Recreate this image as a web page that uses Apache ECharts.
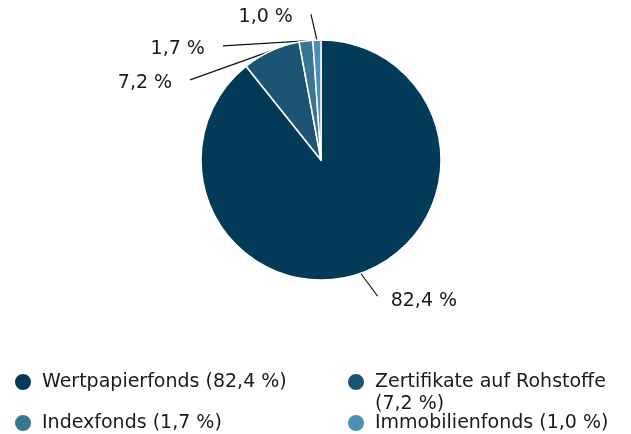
<!DOCTYPE html>
<html>
<head>
<meta charset="utf-8">
<script src="https://cdn.jsdelivr.net/npm/echarts@6/dist/echarts.min.js"></script>
<style>
	html, body { margin: 0; padding: 0; background: #fff; }
	#chart { width: 631px; height: 434px; }
</style>
</head>
<body>
<div id="chart"></div>
<script>
var categories = ['Wertpapierfonds', 'Zertifikate auf Rohstoffe', 'Indexfonds', 'Immobilienfonds'];
var values = [82.4, 7.2, 1.7, 1.0];
var colors = ['#023a57', '#1b5573', '#387693', '#4a90b2'];

function fmt(v) {
	return v.toFixed(1).replace('.', ',') + ' %';
}

var myChart = echarts.init(document.getElementById('chart'));
var font = 'DejaVu Sans';
var fontSize = 19;
var pieData = categories.map(function(name, i) {
	return { name: name, value: values[i], itemStyle: { color: colors[i] } };
});

// label line end offsets from slice edge
var lineOffsets = [[17, 23], [-81, 29], [-83, 5], [-6, -26]];

function legendAt(name, left, top, twoLines) {
	var lg = {
		data: [name],
		left: left,
		top: top,
		padding: 0,
		itemWidth: 18,
		itemHeight: 18,
		icon: 'circle',
		selectedMode: false,
		textStyle: {
			color: '#1a1a1a',
			fontSize: fontSize,
			fontFamily: font,
			lineHeight: 22,
			padding: [0, 0, 0, 5]
		},
		formatter: function(n) {
			var i = categories.indexOf(n);
			return n + ' (' + fmt(values[i]) + ')';
		}
	};
	if (twoLines) {
		// blank first line keeps the icon level with the first text line
		lg.formatter = function(n) {
			var i = categories.indexOf(n);
			return ' \n' + n + '\n(' + fmt(values[i]) + ')';
		};
	}
	return lg;
}

var option = {
	animation: false,
	legend: [
		legendAt(categories[0], 13, 371),
		legendAt(categories[1], 346, 349, true),
		legendAt(categories[2], 13, 412),
		legendAt(categories[3], 346, 412)
	],
	series: [{
		type: 'pie',
		center: [321, 160],
		radius: [0, 120],
		startAngle: 90,
		clockwise: true,
		data: pieData,
		itemStyle: {
			borderColor: '#fff',
			borderWidth: 1.5
		},
		label: {
			show: true,
			position: 'outside',
			color: '#1a1a1a',
			fontSize: fontSize,
			fontFamily: font,
			formatter: function(p) { return fmt(p.value); }
		},
		labelLine: {
			show: true,
			length: 25,
			length2: 0,
			lineStyle: { color: '#111', width: 1.2 }
		},
		labelLayout: function(params) {
			var p0 = params.labelLinePoints[0];
			var off = lineOffsets[params.dataIndex];
			var end = [p0[0] + off[0], p0[1] + off[1]];
			var right = off[0] > 0;
			return {
				x: right ? end[0] + 13 : end[0] - 18,
				y: end[1] + (right ? 5 : 3),
				align: right ? 'left' : 'right',
				verticalAlign: 'middle',
				labelLinePoints: [p0, end, end]
			};
		}
	}]
};
myChart.setOption(option);
</script>
</body>
</html>
